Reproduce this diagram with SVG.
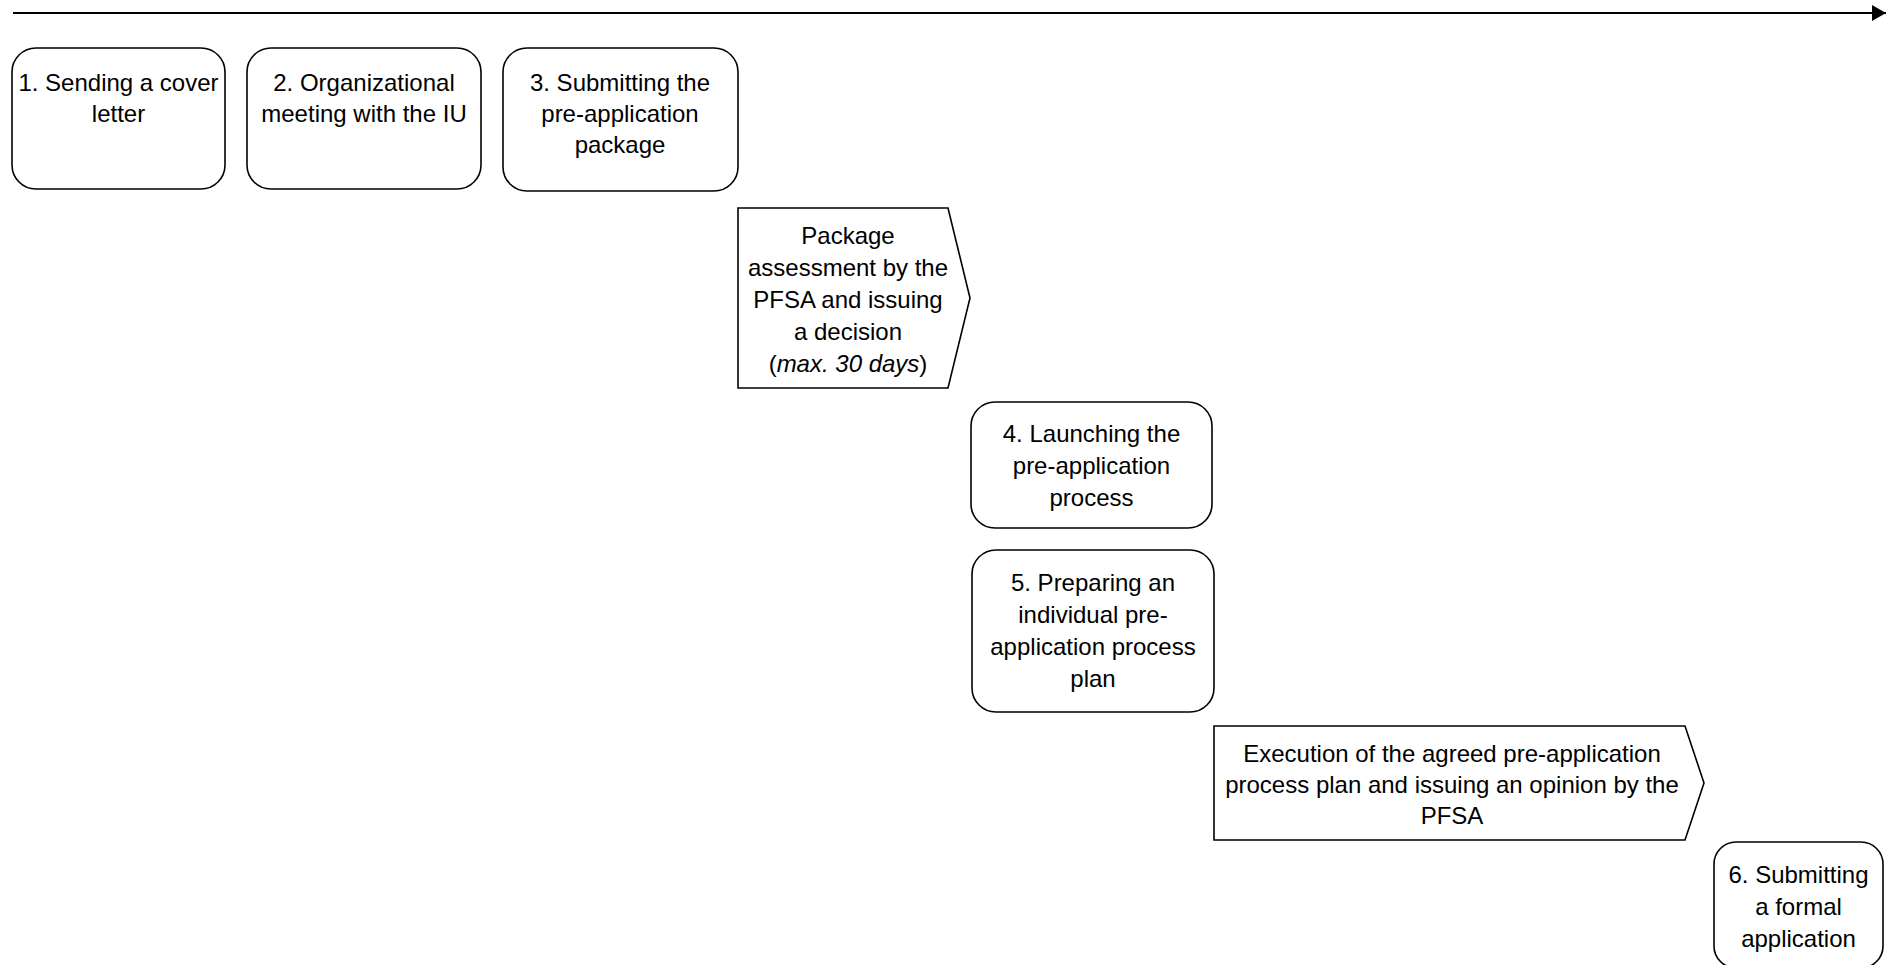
<svg xmlns="http://www.w3.org/2000/svg" width="1887" height="965" viewBox="0 0 1887 965">
<style>
.box{fill:#fff;stroke:#000;stroke-width:1.6}
.t{font-family:"Liberation Sans",Arial,sans-serif;font-size:24px;fill:#000;text-anchor:middle}
.line{stroke:#000;stroke-width:2;fill:none}
</style>
<defs>
<marker id="ah" markerWidth="14" markerHeight="16" refX="14" refY="8" orient="auto" markerUnits="userSpaceOnUse">
<path d="M0,0 L14,8 L0,16 Z" fill="#000"/>
</marker>
</defs>
<rect width="1887" height="965" fill="#fff"/>
<g id="connectors">
<line class="line" x1="13" y1="13" x2="1886" y2="13" marker-end="url(#ah)"/>
</g>
<g id="n1">
<rect class="box" x="12" y="48" width="213" height="141" rx="24"/>
<text class="t" x="118.5" y="91">1. Sending a cover</text>
<text class="t" x="118.5" y="122">letter</text>
</g>
<g id="n2">
<rect class="box" x="247" y="48" width="234" height="141" rx="24"/>
<text class="t" x="364" y="91">2. Organizational</text>
<text class="t" x="364" y="122">meeting with the IU</text>
</g>
<g id="n3">
<rect class="box" x="503" y="48" width="235" height="143" rx="24"/>
<text class="t" x="620" y="91">3. Submitting the</text>
<text class="t" x="620" y="122">pre-application</text>
<text class="t" x="620" y="153">package</text>
</g>
<g id="n_assess">
<path class="box" d="M738,208 L948,208 L970,298 L948,388 L738,388 Z"/>
<text class="t" x="848" y="244">Package</text>
<text class="t" x="848" y="276">assessment by the</text>
<text class="t" x="848" y="308">PFSA and issuing</text>
<text class="t" x="848" y="340">a decision</text>
<text class="t" x="848" y="372">(<tspan font-style="italic">max. 30 days</tspan>)</text>
</g>
<g id="n4">
<rect class="box" x="971" y="402" width="241" height="126" rx="24"/>
<text class="t" x="1091.5" y="442">4. Launching the</text>
<text class="t" x="1091.5" y="474">pre-application</text>
<text class="t" x="1091.5" y="506">process</text>
</g>
<g id="n5">
<rect class="box" x="972" y="550" width="242" height="162" rx="24"/>
<text class="t" x="1093" y="591">5. Preparing an</text>
<text class="t" x="1093" y="623">individual pre-</text>
<text class="t" x="1093" y="655">application process</text>
<text class="t" x="1093" y="687">plan</text>
</g>
<g id="n_exec">
<path class="box" d="M1214,726 L1685,726 L1704,783 L1685,840 L1214,840 Z"/>
<text class="t" x="1452" y="762">Execution of the agreed pre-application</text>
<text class="t" x="1452" y="793">process plan and issuing an opinion by the</text>
<text class="t" x="1452" y="824">PFSA</text>
</g>
<g id="n6">
<rect class="box" x="1714" y="842" width="169" height="126" rx="22"/>
<text class="t" x="1798.5" y="883">6. Submitting</text>
<text class="t" x="1798.5" y="915">a formal</text>
<text class="t" x="1798.5" y="947">application</text>
</g>
</svg>
